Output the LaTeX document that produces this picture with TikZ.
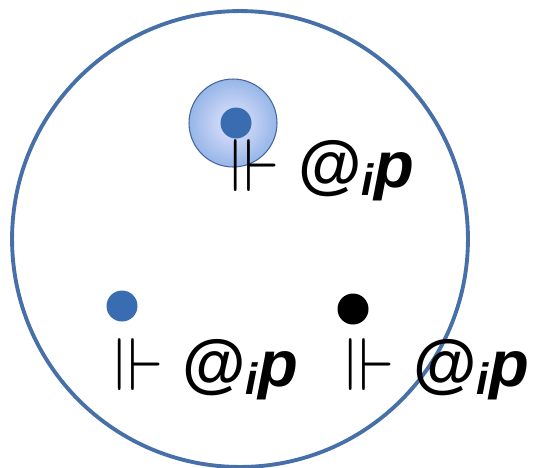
\documentclass[tikz,border=0pt]{standalone}
\usepackage{amssymb}
\usepackage{fontspec}
\setmainfont{Liberation Sans}
\usetikzlibrary{positioning}
\definecolor{ringblue}{RGB}{72,112,168}
\definecolor{dotblue}{RGB}{58,108,178}
\definecolor{haloedge}{RGB}{70,100,160}
\definecolor{halofill}{RGB}{150,182,232}
\newcommand{\atlabel}{\raisebox{-0.12ex}{\scalebox{1.05}[1.15]{$\Vdash$}}\ \textbf{\textit{@}}\raisebox{-0.25ex}{\fontsize{25}{28}\selectfont\textbf{\textit{i}}}\textbf{\textit{p}}}

\begin{document}
\begin{tikzpicture}[
  x=0.02cm, y=-0.02cm,
  every node/.style={font=\fontsize{37}{44}\selectfont},
  world/.style = {circle, draw=ringblue, line width=2.2pt, inner sep=0pt, minimum size=9.12cm},
  halo/.style  = {circle, draw=haloedge, line width=0.6pt, inner sep=0pt, minimum size=1.76cm,
                  inner color=blue!10, outer color=halofill},
  dot/.style   = {circle, fill=dotblue, inner sep=0pt, minimum size=0.62cm},
  bdot/.style  = {dot, fill=black},
  lbl/.style   = {anchor=base west, inner sep=0pt},
]
  \useasboundingbox (0,0) rectangle (536,467);
  \node[world] (w)  at (240,239) {};
  \node[halo]  (h)  at (233,123) {};
  \node[dot]   (d1) at (236,123) {};
  \node[dot]   (d2) at (122,306) {};
  \node[bdot]  (d3) at (353,309) {};
  \node[lbl]   (l1) at (230,187) {\atlabel};
  \node[lbl]   (l2) at (114,386) {\atlabel};
  \node[lbl]   (l3) at (345,386) {\atlabel};
\end{tikzpicture}
\end{document}
